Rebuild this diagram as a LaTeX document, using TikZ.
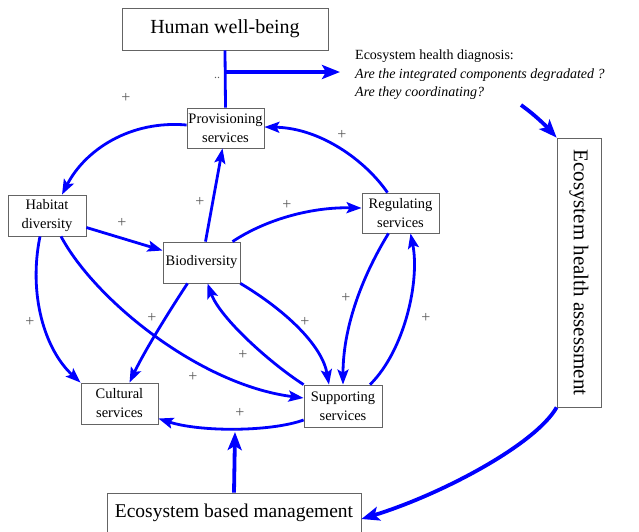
\documentclass[tikz,border=0pt]{standalone}
\usepackage{fontspec}
\setmainfont{Liberation Serif}
\usetikzlibrary{arrows.meta}
\definecolor{flowblue}{RGB}{0,0,255}
\definecolor{boxgray}{RGB}{100,100,100}
\definecolor{plusgray}{RGB}{90,90,90}
\tikzset{
  box/.style={draw=boxgray, line width=0.8pt, fill=white, inner sep=0pt, align=center,
    font=\fontsize{14.5}{19}\selectfont},
  arr/.style={draw=flowblue, line width=2.8pt, -{Stealth[length=15pt,width=11pt,inset=3pt]}},
  bigarr/.style={draw=flowblue, line width=3.8pt, -{Stealth[length=18pt,width=14pt,inset=4pt]}},
  plainline/.style={draw=flowblue, line width=2.8pt},
  plus/.style={text=plusgray, font=\fontsize{16}{16}\selectfont, inner sep=0pt},
}
\begin{document}
\begin{tikzpicture}[x=1pt,y=-1pt]
\useasboundingbox (0,0) rectangle (639,531);
% nodes
\node[box, minimum width=206pt, minimum height=42pt, font=\fontsize{20}{24}\selectfont] (hwb) at (225,29) {Human well-being};
\node[box, minimum width=77pt, minimum height=40pt] (prov) at (225.5,128) {Provisioning\\services};
\node[box, minimum width=78pt, minimum height=41pt] (hab) at (47,215.5) {Habitat\\diversity};
\node[box, minimum width=77pt, minimum height=41pt] (bio) at (201.5,262.5) {Biodiversity};
\node[box, minimum width=77pt, minimum height=40pt] (reg) at (400.5,213) {Regulating\\services};
\node[box, minimum width=78pt, minimum height=42pt] (supp) at (343,406) {Supporting\\services};
\node[box, minimum width=77pt, minimum height=41pt] (cult) at (119.5,403.5) {Cultural\\services};
\node[box, minimum width=254pt, minimum height=40pt, font=\fontsize{19.5}{24}\selectfont] (ebm) at (234,513) {Ecosystem based management};
\node[box, minimum width=44pt, minimum height=269pt, font=\fontsize{21}{24}\selectfont] (eha) at (579,272.5) {\rotatebox{-90}{Ecosystem health assessment}};
\node[anchor=north west, align=left, inner sep=0pt, font=\fontsize{14}{18.5}\selectfont] (diag) at (355,50)
  {Ecosystem health diagnosis:\\\textit{Are the integrated components degradated ?}\\\textit{Are they coordinating?}};

% top connectors
\coordinate (j) at (225,72);
\coordinate (jend) at (340,72);
\coordinate (dstart) at (521,105);
\coordinate (mj) at (235,432);
\draw[plainline] (hwb.south) -- (prov.north);
\draw[bigarr] (j) -- (jend);
\node[plus, font=\fontsize{12}{12}\selectfont] (dots) at (217,78) {..};
\draw[bigarr] (dstart) .. controls (535,115) and (545,125) .. (eha.north west);
\draw[bigarr] (eha.south west) .. controls (535,445) and (440,495) .. ([yshift=-6pt]ebm.east);
\draw[bigarr] (ebm.north) -- (mj);

% inner connectors
\draw[arr] ([yshift=3pt]prov.west) .. controls (130,120) and (85,150) .. ([xshift=15pt]hab.north);
\draw[arr] ([xshift=-13pt]reg.north) .. controls (365,160) and (320,128) .. ([yshift=1pt]prov.east);
\draw[arr] ([xshift=4pt]bio.north) -- ([xshift=-3pt]prov.south);
\draw[arr] ([yshift=-12pt]hab.east) -- ([yshift=12pt]bio.west);
\draw[arr] ([xshift=31pt]bio.north) .. controls (265,220) and (310,207) .. ([yshift=5pt]reg.west);
\draw[arr] ([xshift=-7pt]hab.south) .. controls (28,295) and (45,350) .. (cult.north west);
\draw[arr] ([xshift=14pt]hab.south) .. controls (95,300) and (200,385) .. ([yshift=8pt]supp.west);
\draw[arr] ([xshift=-14pt]bio.south) .. controls (170,310) and (145,350) .. ([xshift=10pt]cult.north);
\draw[arr] (supp.north west) .. controls (270,363) and (220,318) .. ([xshift=6pt]bio.south);
\draw[arr] (bio.south east) .. controls (285,310) and (322,345) .. ([xshift=-14pt]supp.north);
\draw[arr] ([xshift=-12pt]reg.south) .. controls (360,280) and (343,330) .. (supp.north);
\draw[arr] ([xshift=27pt]supp.north) .. controls (405,350) and (420,280) .. ([xshift=10pt]reg.south);
\draw[arr] ([yshift=-14pt]supp.west) .. controls (270,432) and (200,432) .. ([yshift=-15pt]cult.east);
\node[plus, font=\fontsize{8}{8}\selectfont] (dots2) at (236,430) {..};

% plus labels
\node[plus] (p1) at (126,98) {+};
\node[plus] (p2) at (342,135) {+};
\node[plus] (p3) at (122,223) {+};
\node[plus] (p4) at (200,202) {+};
\node[plus] (p5) at (287,205) {+};
\node[plus] (p6) at (30,322) {+};
\node[plus] (p7) at (152,318) {+};
\node[plus] (p8) at (305,322) {+};
\node[plus] (p9) at (346,298) {+};
\node[plus] (p10) at (426,318) {+};
\node[plus] (p11) at (243,355) {+};
\node[plus] (p12) at (193,377) {+};
\node[plus] (p13) at (240,413) {+};
\end{tikzpicture}
\end{document}
